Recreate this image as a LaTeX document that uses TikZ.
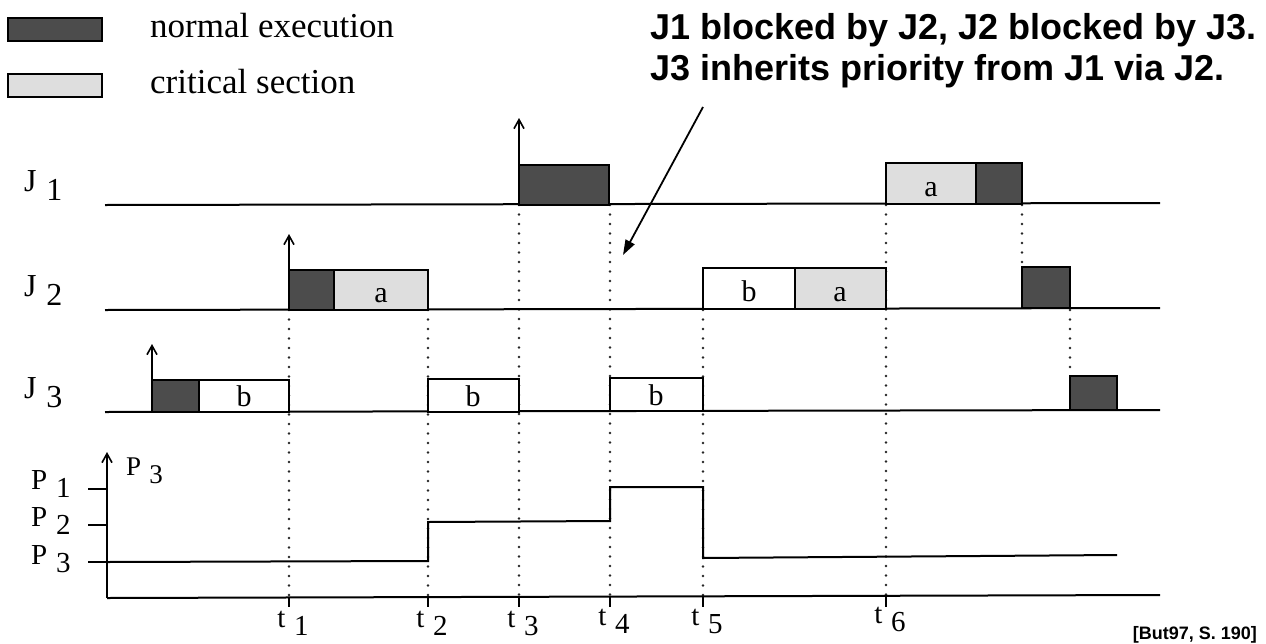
\documentclass[tikz,border=0pt]{standalone}
\usepackage{fontspec}
\setmainfont{Liberation Serif}
\newfontfamily\annfont{Liberation Sans}
\usetikzlibrary{arrows.meta}
\newcommand\sublab[2]{#1\hspace{0.3em}\raisebox{-0.3em}{#2}}
\begin{document}
\begin{tikzpicture}[x=1pt,y=-1pt,
  baseline/.style={line width=2pt},
  darkbox/.style={draw=black, line width=1.8pt, fill=black!70},
  lightbox/.style={draw=black, line width=1.8pt, fill=black!13},
  whitebox/.style={draw=black, line width=1.8pt, fill=white},
  dots/.style={line width=2.8pt, line cap=round, dash pattern=on 0pt off 9.5pt, black!85},
  rel/.style={line width=1.6pt, -{Straight Barb[length=9pt,width=10pt,line width=1.6pt]}},
  jlab/.style={font=\fontsize{32}{32}\selectfont, inner sep=0pt, anchor=base west},
  lab/.style={font=\fontsize{29}{29}\selectfont, inner sep=0pt},
  smalllab/.style={font=\fontsize{27}{27}\selectfont, inner sep=0pt},
  boxlab/.style={font=\fontsize{30}{30}\selectfont, inner sep=0pt, anchor=base},
  legtext/.style={font=\fontsize{35}{35}\selectfont, inner sep=0pt, anchor=base west},
  ann/.style={font=\annfont\bfseries\fontsize{36}{36}\selectfont, inner sep=0pt, anchor=base west},
  refnote/.style={font=\annfont\bfseries\fontsize{18}{18}\selectfont, inner sep=0pt, anchor=base east},
]
\useasboundingbox (0,0) rectangle (1266,643);

% legend
\draw[darkbox] (8,18) rectangle (102,41);
\draw[lightbox] (8,74) rectangle (102,97);
\node[legtext] (leg1) at (150,37) {normal execution};
\node[legtext] (leg2) at (150,93) {critical section};

% annotation
\node[ann] (ann1) at (650,39) {J1 blocked by J2, J2 blocked by J3.};
\node[ann] (ann2) at (650,80) {J3 inherits priority from J1 via J2.};
\coordinate (annstart) at (703,107);
\coordinate (anntip) at (623,255);
\draw[line width=1.8pt, -{Triangle[length=15pt,width=10pt]}] (annstart) -- (anntip);

% dotted guide lines
\draw[dots] (289,310) -- (289,598);
\draw[dots] (428,310) -- (428,598);
\draw[dots] (519,205) -- (519,598);
\draw[dots] (610,205) -- (610,598);
\draw[dots] (703,310) -- (703,598);
\draw[dots] (886,205) -- (886,598);
\draw[dots] (1022,205) -- (1022,267);
\draw[dots] (1070,310) -- (1070,376);

% job baselines
\draw[baseline] (105,205) -- (1160,203);
\draw[baseline] (105,310) -- (1160,308);
\draw[baseline] (105,412) -- (1160,410);

% labels J
\node[jlab] (j1) at (24,191) {\sublab{J}{1}};
\node[jlab] (j2) at (24,296) {\sublab{J}{2}};
\node[jlab] (j3) at (24,398) {\sublab{J}{3}};

% J1 boxes
\draw[darkbox] (519,165) rectangle (609,205);
\draw[lightbox] (886,163) rectangle (976,204);
\draw[darkbox] (976,163) rectangle (1022,204);
\node[boxlab] (j1a) at (931,196) {a};
\draw[rel] (519,165) -- (519,118);

% J2 boxes
\draw[darkbox] (289,270) rectangle (334,310);
\draw[lightbox] (334,270) rectangle (428,310);
\node[boxlab] (j2a1) at (381,302) {a};
\draw[rel] (289,270) -- (289,234);
\draw[whitebox] (703,268) rectangle (795,309);
\draw[lightbox] (795,268) rectangle (886,309);
\node[boxlab] (j2b) at (749,301) {b};
\node[boxlab] (j2a2) at (840,301) {a};
\draw[darkbox] (1022,267) rectangle (1070,308);

% J3 boxes
\draw[darkbox] (152,380) rectangle (199,412);
\draw[whitebox] (199,380) rectangle (289,412);
\node[boxlab] (j3b1) at (244,406) {b};
\draw[rel] (152,380) -- (152,344);
\draw[whitebox] (428,379) rectangle (519,412);
\node[boxlab] (j3b2) at (473,406) {b};
\draw[whitebox] (610,378) rectangle (703,411);
\node[boxlab] (j3b3) at (656,405) {b};
\draw[darkbox] (1070,376) rectangle (1117,410);

% priority plot
\draw[baseline, -{Straight Barb[length=9pt,width=10pt,line width=1.6pt]}] (107,598) -- (107,452);
\draw[baseline] (107,598) -- (1160,595);
\foreach \tx in {289,428,519,610,703,886} \draw[baseline] (\tx,597) -- (\tx,607);
\draw[baseline] (88,489) -- (107,489);
\draw[baseline] (88,525) -- (107,525);
\draw[baseline] (88,562) -- (107,562);
\draw[baseline] (107,562) -- (428,561) -- (428,522) -- (610,521) -- (610,487) -- (703,487) -- (703,558) -- (1117,555);

\node[smalllab, anchor=base west] (p3top) at (126,475) {\sublab{P}{3}};
\node[lab, anchor=base west] (pl1) at (31,489) {\sublab{P}{1}};
\node[lab, anchor=base west] (pl2) at (31,526) {\sublab{P}{2}};
\node[lab, anchor=base west] (pl3) at (31,564) {\sublab{P}{3}};

% time labels
\node[lab, anchor=base] (t1) at (293,627) {\sublab{t}{1}};
\node[lab, anchor=base] (t2) at (432,627) {\sublab{t}{2}};
\node[lab, anchor=base] (t3) at (523,627) {\sublab{t}{3}};
\node[lab, anchor=base] (t4) at (614,625) {\sublab{t}{4}};
\node[lab, anchor=base] (t5) at (707,625) {\sublab{t}{5}};
\node[lab, anchor=base] (t6) at (890,623) {\sublab{t}{6}};

\node[refnote] (src) at (1257,639) {[But97, S. 190]};
\end{tikzpicture}
\end{document}
